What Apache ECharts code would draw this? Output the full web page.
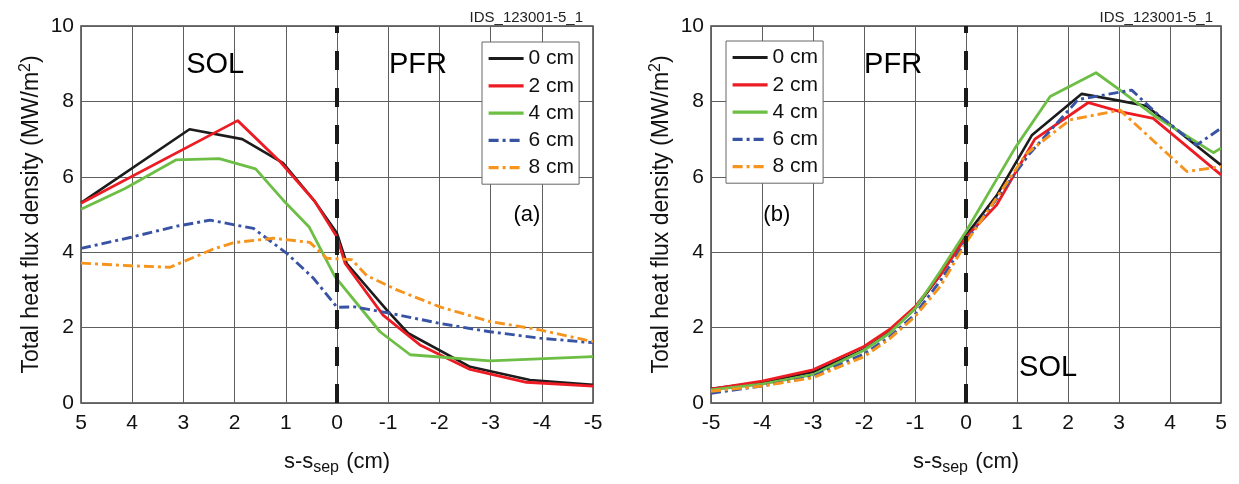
<!DOCTYPE html>
<html>
<head>
<meta charset="utf-8">
<script src="https://cdn.jsdelivr.net/npm/echarts@6/dist/echarts.min.js"></script>
<style>
html,body{margin:0;padding:0;background:#fff;}
#c{width:1239px;height:484px;}
</style>
</head>
<body>
<div id="c"></div>
<script>
// ---- data ----
const seriesNames = ['0 cm', '2 cm', '4 cm', '6 cm', '8 cm'];
const yTicks = [0, 2, 4, 6, 8, 10];

// panel (a): [s-s_sep (cm), heat flux (MW/m2)]
const a0cm = [[5,5.31],[2.88,7.26],[1.85,7.0],[1.05,6.36],[0.43,5.34],[0,4.5],[-0.19,3.7],[-0.97,2.47],[-1.39,1.85],[-2.6,0.96],[-3.77,0.61],[-5,0.48]];
const a2cm = [[5,5.3],[1.94,7.49],[1.11,6.4],[0.43,5.34],[0,4.4],[-0.16,3.7],[-0.9,2.33],[-1.62,1.54],[-2.6,0.89],[-3.7,0.55],[-5,0.45]];
const a4cm = [[5,5.14],[4.14,5.69],[3.14,6.45],[2.3,6.48],[1.59,6.21],[1.05,5.38],[0.54,4.66],[0.04,3.35],[-0.84,1.89],[-1.43,1.28],[-2.99,1.12],[-5,1.23]];
const a6cm = [[5,4.1],[4.04,4.39],[3.13,4.69],[2.48,4.85],[1.63,4.63],[0.98,3.97],[0.46,3.31],[0,2.54],[-0.35,2.55],[-1.04,2.38],[-2.01,2.11],[-2.99,1.89],[-3.96,1.72],[-5,1.6]];
const a8cm = [[5,3.71],[4.04,3.64],[3.26,3.6],[2.42,4.08],[2.03,4.25],[1.24,4.37],[0.53,4.26],[0.2,3.84],[-0.29,3.8],[-0.58,3.38],[-1.17,3.0],[-2.01,2.55],[-2.99,2.16],[-3.96,1.94],[-4.42,1.8],[-5,1.63]];

// panel (b)
const b0cm = [[-5,0.38],[-4,0.55],[-3,0.82],[-2,1.42],[-1.5,1.88],[-1,2.5],[-0.5,3.4],[0,4.45],[0.6,5.5],[1.29,7.1],[2.27,8.2],[3.0,8.02],[3.54,7.88],[4.46,6.89],[5,6.31]];
const b2cm = [[-5,0.37],[-4,0.58],[-3,0.88],[-2,1.5],[-1.5,1.95],[-1,2.55],[-0.5,3.4],[0,4.4],[0.6,5.25],[1.35,7.0],[2.4,7.97],[3.02,7.73],[3.67,7.55],[5,6.05]];
const b4cm = [[-5,0.35],[-4,0.5],[-3,0.75],[-2,1.4],[-1.5,1.85],[-1,2.5],[-0.5,3.5],[0,4.55],[0.96,6.76],[1.65,8.13],[2.55,8.76],[3.02,8.3],[3.67,7.64],[4.85,6.64],[5,6.76]];
const b6cm = [[-5,0.26],[-4,0.45],[-3,0.7],[-2,1.3],[-1.5,1.75],[-1,2.35],[-0.5,3.25],[0,4.3],[1.25,6.62],[2.2,8.05],[3.25,8.3],[3.74,7.68],[4.52,6.84],[5,7.29]];
const b8cm = [[-5,0.31],[-4,0.45],[-3,0.67],[-2,1.23],[-1.5,1.7],[-1,2.29],[-0.5,3.1],[0,4.25],[1.19,6.62],[2.04,7.51],[3.02,7.77],[4.33,6.14],[5,6.27]];

// separatrix marker
const sepLine = [[0,0],[0,10]];

// annotations [x, y, text]
const annotA = [[2.38,8.97,'SOL'],[-1.58,8.97,'PFR'],[-3.71,4.99,'(a)']];
const annotB = [[-1.43,8.97,'PFR'],[-3.71,4.99,'(b)'],[1.61,0.93,'SOL']];
const idLabel = 'IDS_123001-5_1';

// ---- styles ----
const FONT = '"Liberation Sans", Arial, Helvetica, sans-serif';
const colors = ['#1c1c1c', '#ed1c24', '#6dbe45', '#3853a4', '#f7941e'];
const dashes = ['solid', 'solid', 'solid', [10,4,3,4], [10,4,3,4]];
const widths = [2.6, 2.8, 2.8, 2.9, 2.9];

const chart = echarts.init(document.getElementById('c'), null, {renderer: 'canvas'});

function xAxisFor(gi, inverse) {
  return {
    type: 'value', gridIndex: gi, min: -5, max: 5, interval: 1, inverse: inverse,
    axisLine: {show: false}, axisTick: {show: false},
    splitLine: {show: true, lineStyle: {color: '#5e5e5e', width: 1}},
    axisLabel: {fontFamily: FONT, fontSize: 21, color: '#111', margin: 10},
    name: '{a|s-s}{sub|sep}{a| (cm)}',
    nameLocation: 'middle', nameGap: 44,
    nameTextStyle: {
      fontFamily: FONT, fontSize: 22, color: '#111',
      rich: {
        a: {fontFamily: FONT, fontSize: 22, color: '#111'},
        sub: {fontFamily: FONT, fontSize: 16, color: '#111', padding: [13, 1, 0, 0]}
      }
    }
  };
}
function yAxisFor(gi) {
  return {
    type: 'value', gridIndex: gi, min: 0, max: 10, interval: 2,
    axisLine: {show: false}, axisTick: {show: false},
    splitLine: {show: true, lineStyle: {color: '#5e5e5e', width: 1}},
    axisLabel: {fontFamily: FONT, fontSize: 21, color: '#111', margin: 7},
    name: '{a|Total heat flux density (MW/m}{sup|2}{a|)}',
    nameLocation: 'middle', nameGap: 36, nameRotate: 90,
    nameTextStyle: {
      fontFamily: FONT, fontSize: 23, color: '#111',
      rich: {
        a: {fontFamily: FONT, fontSize: 23, color: '#111'},
        sup: {fontFamily: FONT, fontSize: 16, color: '#111', padding: [0, 0, 11, 0]}
      }
    }
  };
}

const dataA = [a0cm, a2cm, a4cm, a6cm, a8cm];
const dataB = [b0cm, b2cm, b4cm, b6cm, b8cm];
const series = [];
[dataA, dataB].forEach(function (set, gi) {
  set.forEach(function (d, i) {
    series.push({
      type: 'line', name: seriesNames[i], xAxisIndex: gi, yAxisIndex: gi,
      data: d, symbol: 'none', showSymbol: false, silent: true, z: 3 + i * 0.01,
      lineStyle: {color: colors[i], width: widths[i], type: dashes[i], cap: 'butt', join: 'round'},
      itemStyle: {color: colors[i]}
    });
  });
  series.push({
    type: 'line', name: 'sep', xAxisIndex: gi, yAxisIndex: gi, data: sepLine,
    symbol: 'none', silent: true, z: 5,
    lineStyle: {color: '#1a1a1a', width: 4, type: [19, 18], cap: 'butt'}
  });
  const ann = gi === 0 ? annotA : annotB;
  series.push({
    type: 'scatter', name: 'annot', xAxisIndex: gi, yAxisIndex: gi, silent: true, z: 6,
    symbolSize: 0,
    data: ann.map(function (a) {
      const big = a[2] === 'SOL' || a[2] === 'PFR';
      return {value: [a[0], a[1]], name: a[2],
        label: {show: true, position: 'inside', formatter: a[2], fontFamily: FONT,
          fontSize: big ? 29 : 22, color: '#000', opacity: 1}};
    })
  });
});

function legendFor(left, top) {
  return {
    data: seriesNames, orient: 'vertical', left: left, top: top,
    padding: [6, 5, 6, 5], itemGap: 6.3, itemWidth: 35, itemHeight: 14,
    backgroundColor: '#fff', borderColor: '#666', borderWidth: 1,
    selectedMode: false,
    itemStyle: {opacity: 0},
    lineStyle: {width: 3.2},
    textStyle: {fontFamily: FONT, fontSize: 21, color: '#111', lineHeight: 21}
  };
}

chart.setOption({
  animation: false,
  backgroundColor: '#fff',
  grid: [
    {left: 81, top: 26, width: 512, height: 377, show: true, borderColor: '#444', borderWidth: 1.5, backgroundColor: 'transparent'},
    {left: 711, top: 26, width: 510, height: 377, show: true, borderColor: '#444', borderWidth: 1.5, backgroundColor: 'transparent'}
  ],
  xAxis: [xAxisFor(0, true), xAxisFor(1, false)],
  yAxis: [yAxisFor(0), yAxisFor(1)],
  legend: [legendFor(482, 42), legendFor(726, 41)],
  graphic: [
    {type: 'text', right: 1239 - 583, top: 10, style: {text: idLabel, font: '15px ' + FONT, fill: '#222'}},
    {type: 'text', right: 1239 - 1213, top: 10, style: {text: idLabel, font: '15px ' + FONT, fill: '#222'}}
  ],
  series: series
});
</script>
</body>
</html>
